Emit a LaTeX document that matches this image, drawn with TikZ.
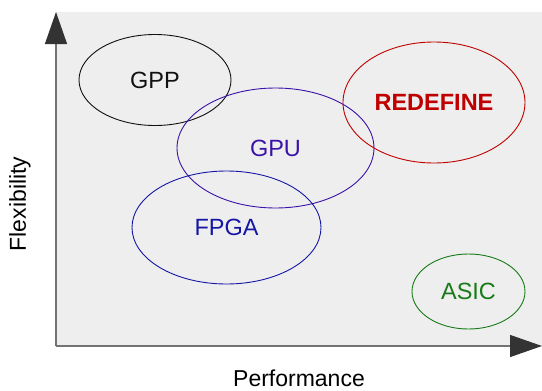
\documentclass[tikz,border=0pt]{standalone}
\usepackage{fontspec}
\setmainfont{Liberation Sans}
\usepackage{xcolor}
\usetikzlibrary{shapes.geometric,arrows.meta}

\definecolor{gppcol}{HTML}{111111}
\definecolor{gpucol}{HTML}{3A12A8}
\definecolor{fpgacol}{HTML}{1616A6}
\definecolor{redcol}{HTML}{C00000}
\definecolor{asiccol}{HTML}{187A18}
\definecolor{plane}{HTML}{EEEEEE}

\begin{document}
\begin{tikzpicture}[x=1pt,y=-1pt,
    achse/.style={draw=black!55,line width=1.2pt,-{Triangle[length=32pt,width=22pt,fill=black!80,color=black!80]}},
    blase/.style={ellipse,draw,line width=0.9pt,font=\fontsize{23.5}{26}\selectfont,inner sep=0pt},
    beschr/.style={font=\fontsize{23}{26}\selectfont}
  ]
    \useasboundingbox (0,0) rectangle (542,391);
    \fill[plane] (56,12) rectangle (542,346);

    \coordinate (o) at (56,346);
    \coordinate (ytip) at (56,12);
    \coordinate (xtip) at (542,346);
    \draw[achse] (o) -- (ytip);
    \draw[achse] (o) -- (xtip);

    \node[beschr,rotate=90] (flex) at (20,204) {Flexibility};
    \node[beschr] (perf) at (299,378) {Performance};

    \node[blase,draw=gppcol,text=gppcol,minimum width=152pt,minimum height=91pt] (gpp) at (155,80) {GPP};
    \node[blase,draw=gpucol,text=gpucol,minimum width=197pt,minimum height=120pt] (gpu) at (275.5,148) {GPU};
    \node[blase,draw=fpgacol,text=fpgacol,minimum width=189pt,minimum height=113pt] (fpga) at (226.5,227.5) {FPGA};
    \node[blase,draw=redcol,text=redcol,font=\fontsize{23.5}{26}\selectfont\bfseries,minimum width=182pt,minimum height=121pt] (redefine) at (434,102.5) {REDEFINE};
    \node[blase,draw=asiccol,text=asiccol,minimum width=113pt,minimum height=75pt] (asic) at (468.5,291.5) {ASIC};
\end{tikzpicture}
\end{document}
